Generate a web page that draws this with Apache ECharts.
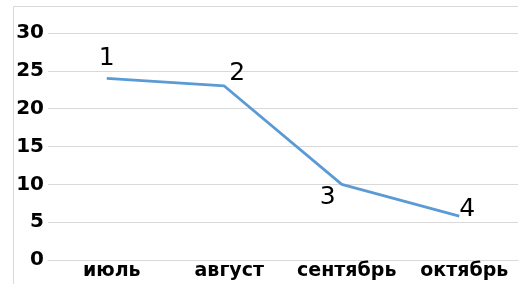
<!DOCTYPE html>
<html>
<head>
<meta charset="utf-8">
<script src="https://cdn.jsdelivr.net/npm/echarts@6/dist/echarts.min.js"></script>
<style>
html,body{margin:0;padding:0;background:#fff;}
#main{width:529px;height:284px;}
</style>
</head>
<body>
<div id="main"></div>
<script>
var categories = ['июль', 'август', 'сентябрь', 'октябрь'];
var values = [24, 23, 10, 5.8];
var pointLabels = ['1', '2', '3', '4'];
var yTicks = [0, 5, 10, 15, 20, 25, 30];

var labelOffsets = [[0, -20], [13, -12], [-14, 13], [8, -7]];

var chart = echarts.init(document.getElementById('main'), null, {renderer: 'canvas'});
var seriesData = values.map(function (v, i) {
  return {
    value: v,
    label: {
      show: true,
      formatter: pointLabels[i],
      position: 'inside',
      offset: labelOffsets[i]
    }
  };
});
chart.setOption({
  animation: false,
  backgroundColor: '#ffffff',
  grid: {left: 48, right: 11, top: 33, bottom: 24, containLabel: false},
  xAxis: {
    type: 'category',
    data: categories,
    boundaryGap: true,
    axisLine: {show: true, lineStyle: {color: '#d9d9d9', width: 1}},
    axisTick: {show: false},
    axisLabel: {
      interval: 0,
      color: '#000',
      fontFamily: 'DejaVu Sans',
      fontWeight: 'bold',
      fontSize: 19,
      margin: 2,
      padding: [0, 0, 0, 10]
    },
    splitLine: {show: false}
  },
  yAxis: {
    type: 'value',
    min: yTicks[0],
    max: yTicks[yTicks.length - 1],
    interval: yTicks[1] - yTicks[0],
    axisLine: {show: false},
    axisTick: {show: false},
    axisLabel: {
      color: '#000',
      fontFamily: 'DejaVu Sans',
      fontWeight: 'bold',
      fontSize: 20,
      margin: 4
    },
    splitLine: {show: true, lineStyle: {color: '#d9d9d9', width: 1}}
  },
  series: [{
    type: 'line',
    data: seriesData,
    showSymbol: true,
    symbol: 'circle',
    symbolSize: 1,
    itemStyle: {color: 'transparent'},
    lineStyle: {color: '#5b9bd5', width: 2.8},
    label: {
      show: true,
      color: '#000',
      fontFamily: 'DejaVu Sans',
      fontSize: 25
    }
  }],
  graphic: [
    {type: 'line', shape: {x1: 13.5, y1: 6.5, x2: 518, y2: 6.5}, style: {stroke: '#d9d9d9', lineWidth: 1}, silent: true},
    {type: 'line', shape: {x1: 13.5, y1: 6.5, x2: 13.5, y2: 284}, style: {stroke: '#d9d9d9', lineWidth: 1}, silent: true}
  ]
});
</script>
</body>
</html>
